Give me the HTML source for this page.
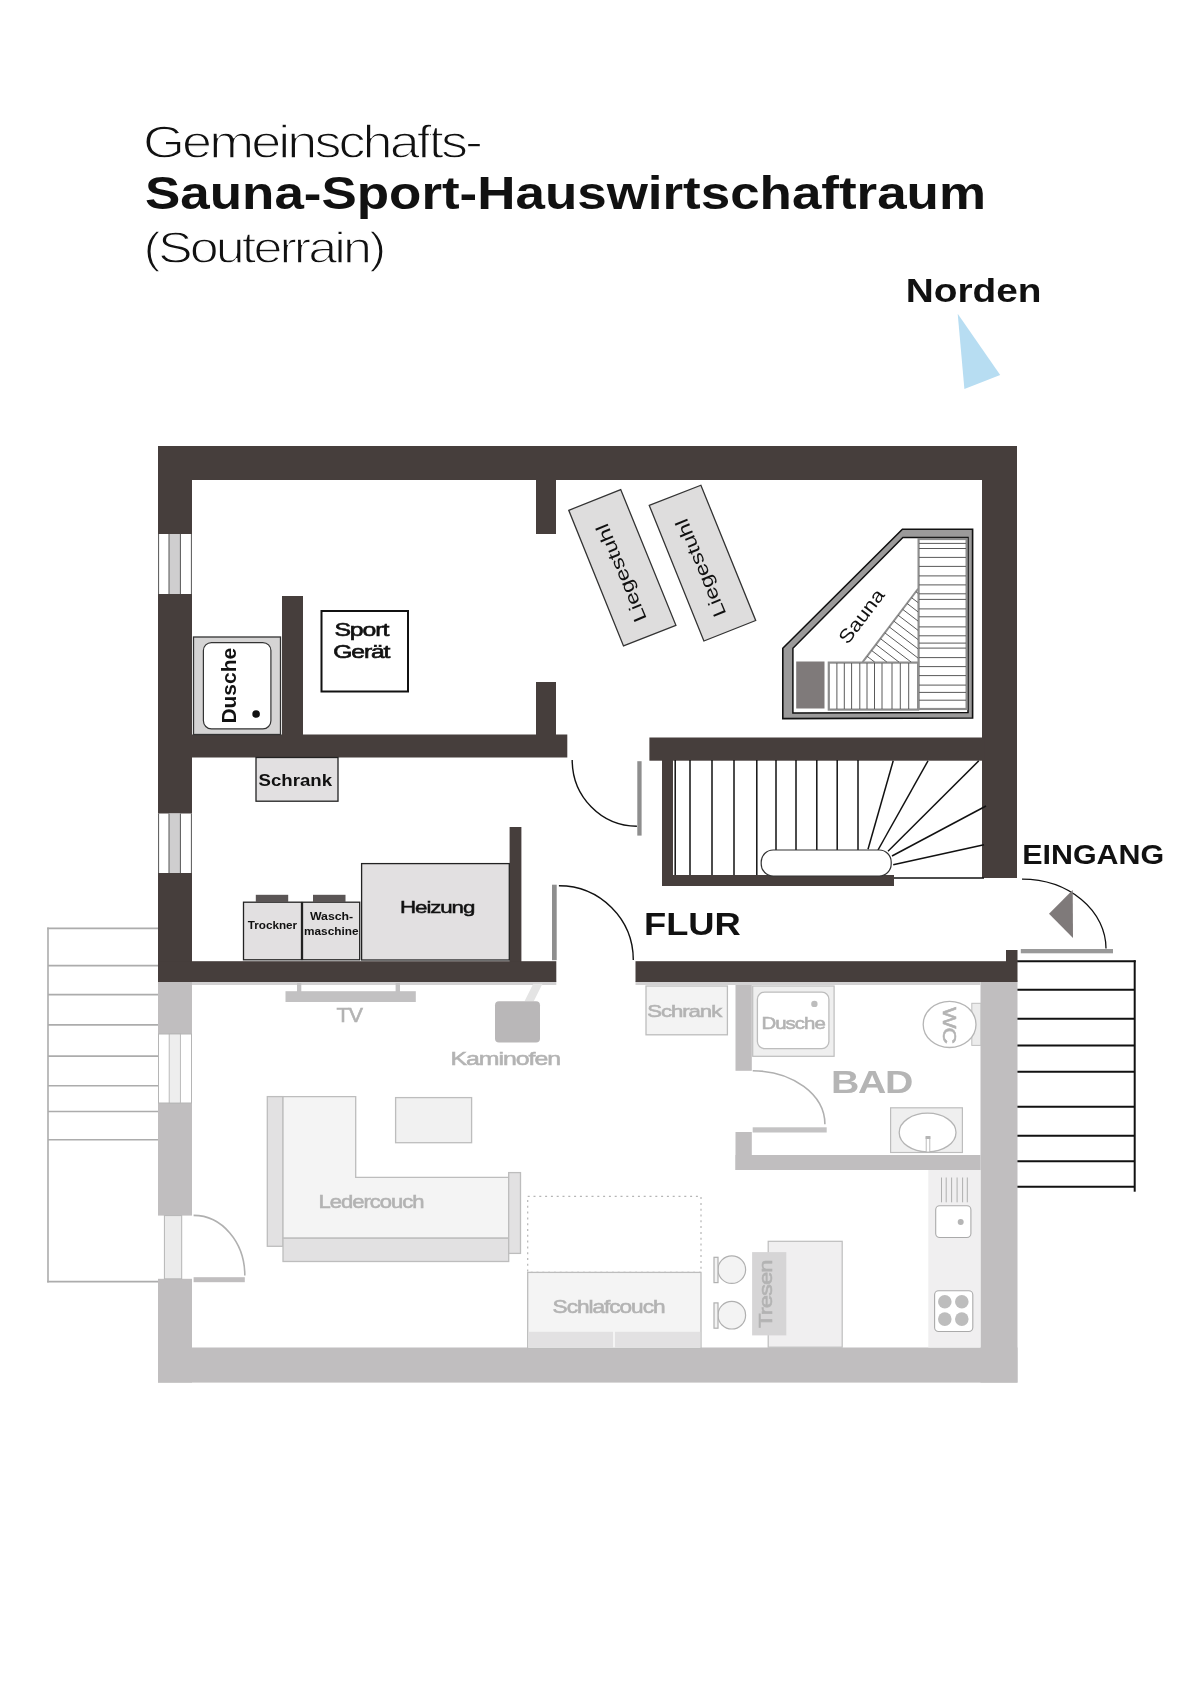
<!DOCTYPE html>
<html><head><meta charset="utf-8"><title>Souterrain</title>
<style>
html,body{margin:0;padding:0;background:#fff;}
body{width:1200px;height:1697px;overflow:hidden;}
svg{display:block;will-change:transform;}
text{font-family:"Liberation Sans",sans-serif;}
</style></head>
<body>
<svg width="1200" height="1697" viewBox="0 0 1200 1697">
<rect x="0" y="0" width="1200" height="1697" fill="#fff"/>

<!-- TITLE -->
<g fill="#111">
<text x="143" y="158" font-size="46" letter-spacing="-2.5" textLength="337" lengthAdjust="spacingAndGlyphs" stroke="#fff" stroke-width="1.3">Gemeinschafts-</text>
<text x="145" y="209" font-size="46" font-weight="bold" textLength="841" lengthAdjust="spacingAndGlyphs">Sauna-Sport-Hauswirtschaftraum</text>
<text x="143.5" y="263" font-size="45" letter-spacing="-2.5" textLength="240" lengthAdjust="spacingAndGlyphs" stroke="#fff" stroke-width="1.3">(Souterrain)</text>
<text x="905.7" y="302" font-size="33" font-weight="bold" textLength="135.8" lengthAdjust="spacingAndGlyphs">Norden</text>
</g>
<polygon points="957.7,313.8 1000.2,375 964.4,388.9" fill="#b7ddf2"/>

<!-- PLAN_LOWER -->
<!-- outside steps left -->
<g stroke="#acacac" stroke-width="1.6" fill="none">
<line x1="48" y1="927.6" x2="48" y2="1282.4"/>
<line x1="47.2" y1="928.4" x2="158" y2="928.4"/>
<line x1="48" y1="965.6" x2="158" y2="965.6"/>
<line x1="48" y1="994.6" x2="158" y2="994.6"/>
<line x1="48" y1="1024.9" x2="158" y2="1024.9"/>
<line x1="48" y1="1056.1" x2="158" y2="1056.1"/>
<line x1="48" y1="1085.8" x2="158" y2="1085.8"/>
<line x1="48" y1="1111.5" x2="158" y2="1111.5"/>
<line x1="48" y1="1139.8" x2="158" y2="1139.8"/>
<line x1="47.2" y1="1281.6" x2="158" y2="1281.6"/>
</g>
<!-- outside steps right -->
<g stroke="#111" stroke-width="2" fill="none">
<line x1="1017" y1="961.3" x2="1135.7" y2="961.3"/>
<line x1="1017" y1="989.7" x2="1134.7" y2="989.7"/>
<line x1="1017" y1="1018.8" x2="1134.7" y2="1018.8"/>
<line x1="1017" y1="1045.5" x2="1134.7" y2="1045.5"/>
<line x1="1017" y1="1071.7" x2="1134.7" y2="1071.7"/>
<line x1="1017" y1="1106.7" x2="1134.7" y2="1106.7"/>
<line x1="1017" y1="1135.8" x2="1134.7" y2="1135.8"/>
<line x1="1017" y1="1161.3" x2="1134.7" y2="1161.3"/>
<line x1="1017" y1="1186.7" x2="1134.7" y2="1186.7"/>
<line x1="1134.7" y1="960.3" x2="1134.7" y2="1191.7"/>
</g>
<!-- gray walls -->
<g fill="#c0bebf">
<rect x="158" y="980" width="34" height="54"/>
<rect x="158" y="1103" width="34" height="112.6"/>
<rect x="158" y="1278.8" width="34" height="103.8"/>
<rect x="158" y="1347.5" width="859.5" height="35.1"/>
<rect x="980.5" y="980" width="37" height="402.6"/>
<rect x="735.5" y="980" width="16.3" height="90.8"/>
<rect x="735.5" y="1132" width="16.3" height="38"/>
<rect x="735.5" y="1155" width="245" height="15"/>
</g>
<rect x="192" y="981" width="364.3" height="4" fill="#d2d1d2"/>
<rect x="635.5" y="981" width="345" height="4" fill="#d2d1d2"/>
<!-- window lower -->
<rect x="158.5" y="1034" width="33" height="69" fill="#fff" stroke="#b5b5b5" stroke-width="1"/>
<rect x="169.2" y="1034" width="11.2" height="69" fill="#eeeeee" stroke="#b5b5b5" stroke-width="0.9"/>
<!-- left door -->
<rect x="164.4" y="1215.6" width="17.3" height="63.2" fill="#ebebeb" stroke="#b5b5b5" stroke-width="1"/>
<rect x="193.6" y="1277.2" width="51.2" height="5" fill="#c0bebf"/>
<path d="M193.6,1215.4 A51.2,60 0 0 1 244.8,1275.4" fill="none" stroke="#b0b0b0" stroke-width="1.6"/>
<!-- TV -->
<g fill="#c2c1c2">
<rect x="285.5" y="991.2" width="130.3" height="10.8"/>
<rect x="297" y="983" width="4.3" height="9"/>
<rect x="395.6" y="983" width="4.4" height="9"/>
</g>
<!-- Kaminofen -->
<polygon points="533.25,983.75 542.5,983.75 533.75,1001.25 524.5,1001.25" fill="#e4e4e4"/>
<rect x="495" y="1001.25" width="45" height="41.25" rx="4" fill="#b9b7b8"/>
<!-- couch -->
<g stroke="#bdbdbd" stroke-width="1.3">
<rect x="267.3" y="1096.6" width="15.7" height="149.7" fill="#e2e1e2"/>
<path d="M283,1096.6 H355.7 V1177.4 H508.7 V1238.2 H283 Z" fill="#f4f4f4"/>
<rect x="283" y="1238.2" width="225.7" height="23.3" fill="#e2e1e2"/>
<rect x="508.7" y="1172.6" width="11.8" height="80.8" fill="#e2e1e2"/>
<rect x="395.6" y="1097.6" width="76" height="45.1" fill="#f1f1f1"/>
</g>
<!-- Schlafcouch -->
<rect x="527.7" y="1196.4" width="173.3" height="76" fill="none" stroke="#b5b5b5" stroke-width="1.2" stroke-dasharray="2,3.8"/>
<rect x="527.7" y="1272.4" width="173.3" height="76" fill="#f4f4f4" stroke="#bdbdbd" stroke-width="1.3"/>
<rect x="528.4" y="1331.8" width="84.6" height="16" fill="#e2e1e2"/>
<rect x="615" y="1331.8" width="85.3" height="16" fill="#e2e1e2"/>
<!-- Schrank lower -->
<rect x="646" y="986" width="81.4" height="48.8" fill="#f3f3f3" stroke="#bdbdbd" stroke-width="1.3"/>
<!-- Dusche lower -->
<rect x="752.7" y="986" width="81.4" height="70.3" fill="#efefef" stroke="#bdbdbd" stroke-width="1.2"/>
<rect x="757.4" y="992.2" width="71.5" height="56.4" rx="7" fill="#fff" stroke="#bdbdbd" stroke-width="1.3"/>
<circle cx="814.4" cy="1003.9" r="3.2" fill="#bdbdbd"/>
<!-- bath door -->
<path d="M752.7,1070.8 A72.2,53.4 0 0 1 824.9,1124.2" fill="none" stroke="#b0b0b0" stroke-width="1.6"/>
<rect x="752.7" y="1127.3" width="74" height="5.2" fill="#c4c3c4"/>
<!-- WC -->
<rect x="971.8" y="1003.3" width="9" height="42.1" fill="#ececec" stroke="#c0c0c0" stroke-width="1"/>
<ellipse cx="949.6" cy="1024.4" rx="26.4" ry="23.1" fill="#fff" stroke="#b5b5b5" stroke-width="1.3"/>
<!-- sink -->
<rect x="890.6" y="1107.8" width="71.8" height="44.7" fill="#efefef" stroke="#bdbdbd" stroke-width="1.2"/>
<ellipse cx="927.6" cy="1132.5" rx="28.4" ry="19.3" fill="#fff" stroke="#b5b5b5" stroke-width="1.3"/>
<rect x="926.2" y="1137" width="3.6" height="15" fill="#fff" stroke="#b5b5b5" stroke-width="0.9"/>
<rect x="925.6" y="1136" width="4.8" height="3" fill="#b5b5b5"/>
<!-- kitchen -->
<rect x="928.3" y="1170" width="52.2" height="177.5" fill="#f0eff0"/>
<g stroke="#a8a8a8" stroke-width="0.9">
<line x1="941.5" y1="1177.5" x2="941.5" y2="1202.3"/>
<line x1="946.2" y1="1177.5" x2="946.2" y2="1202.3"/>
<line x1="951.6" y1="1177.5" x2="951.6" y2="1202.3"/>
<line x1="957.1" y1="1177.5" x2="957.1" y2="1202.3"/>
<line x1="962.6" y1="1177.5" x2="962.6" y2="1202.3"/>
<line x1="967.3" y1="1177.5" x2="967.3" y2="1202.3"/>
</g>
<rect x="935.7" y="1205.8" width="35.2" height="31.7" rx="4" fill="#fff" stroke="#aaa" stroke-width="1.1"/>
<circle cx="960.7" cy="1222" r="3" fill="#b5b5b5"/>
<rect x="934.6" y="1290.8" width="38.2" height="40.7" rx="4" fill="#fff" stroke="#aaa" stroke-width="1.1"/>
<g fill="#bdbdbd">
<circle cx="944.8" cy="1301.8" r="6.8"/>
<circle cx="961.8" cy="1301.8" r="6.8"/>
<circle cx="944.8" cy="1319.1" r="6.8"/>
<circle cx="961.8" cy="1319.1" r="6.8"/>
</g>
<!-- Tresen -->
<rect x="768.2" y="1241.3" width="74" height="105.9" fill="#f0eff0" stroke="#bdbdbd" stroke-width="1.2"/>
<rect x="752.1" y="1252.1" width="34.2" height="83.3" fill="#d6d5d6"/>
<g fill="#f3f3f3" stroke="#b0b0b0" stroke-width="1.2">
<circle cx="731.8" cy="1269.6" r="13.8"/>
<circle cx="731.8" cy="1315.2" r="13.8"/>
<rect x="714" y="1257.3" width="4" height="25.3"/>
<rect x="714" y="1302.9" width="4" height="25.3"/>
</g>
<!-- lower labels -->
<g fill="#b3b3b3" stroke="#b3b3b3" stroke-width="0.55" letter-spacing="-0.8">
<text x="336.5" y="1021.7" font-size="19.5" textLength="25.5" lengthAdjust="spacingAndGlyphs">TV</text>
<text x="450.5" y="1065" font-size="19" textLength="109.5" lengthAdjust="spacingAndGlyphs">Kaminofen</text>
<text x="318.6" y="1208.3" font-size="17.5" textLength="105" lengthAdjust="spacingAndGlyphs">Ledercouch</text>
<text x="552.6" y="1312.8" font-size="17.5" textLength="111.9" lengthAdjust="spacingAndGlyphs">Schlafcouch</text>
<text x="647.2" y="1016.9" font-size="17" textLength="74" lengthAdjust="spacingAndGlyphs">Schrank</text>
<text x="761.4" y="1028.6" font-size="17" textLength="63.4" lengthAdjust="spacingAndGlyphs">Dusche</text>
<text transform="translate(942.9,1007) rotate(90)" font-size="18" textLength="36" lengthAdjust="spacingAndGlyphs">WC</text>
<text transform="translate(771.7,1327.9) rotate(-90)" font-size="19" textLength="67.4" lengthAdjust="spacingAndGlyphs">Tresen</text>
</g>
<text x="831" y="1093.3" font-size="30.5" font-weight="bold" fill="#b5b5b5" letter-spacing="-1" textLength="81.2" lengthAdjust="spacingAndGlyphs">BAD</text>

<!-- PLAN_UPPER -->
<g fill="#463e3c">
<rect x="158" y="446" width="859" height="34"/>
<rect x="158" y="446" width="34" height="536"/>
<rect x="982" y="446" width="35" height="432"/>
<rect x="536" y="478" width="20" height="56"/>
<rect x="536" y="682" width="20" height="54"/>
<rect x="192" y="734.5" width="375.3" height="23"/>
<rect x="282" y="596" width="21" height="140"/>
<rect x="649.4" y="737.5" width="335" height="23.2"/>
<rect x="662" y="759" width="11" height="127"/>
<rect x="662" y="875" width="232" height="11"/>
<rect x="509.6" y="827" width="11.8" height="136"/>
<rect x="158" y="961.2" width="398.3" height="20.8"/>
<rect x="635.5" y="961.2" width="382" height="20.8"/>
<rect x="1006" y="950" width="11.5" height="12"/>
</g>
<!-- windows upper -->
<g>
<rect x="158" y="534" width="34" height="60" fill="#fff"/>
<rect x="169" y="534" width="11.4" height="60" fill="#cfcecf"/>
<g stroke="#555" stroke-width="1"><line x1="158.6" y1="534" x2="158.6" y2="594"/><line x1="169" y1="534" x2="169" y2="594"/><line x1="180.4" y1="534" x2="180.4" y2="594"/><line x1="191.4" y1="534" x2="191.4" y2="594"/></g>
<rect x="158" y="813.5" width="34" height="59.5" fill="#fff"/>
<rect x="169" y="813.5" width="11.4" height="59.5" fill="#cfcecf"/>
<g stroke="#555" stroke-width="1"><line x1="158.6" y1="813.5" x2="158.6" y2="873.0"/><line x1="169" y1="813.5" x2="169" y2="873.0"/><line x1="180.4" y1="813.5" x2="180.4" y2="873.0"/><line x1="191.4" y1="813.5" x2="191.4" y2="873.0"/></g>
</g>
<!-- shower upper -->
<rect x="193.5" y="637" width="87" height="97.5" fill="#d5d4d4" stroke="#333" stroke-width="1.3"/>
<rect x="203.4" y="642.6" width="67.5" height="86.2" rx="8" fill="#fff" stroke="#333" stroke-width="1.2"/>
<circle cx="256.1" cy="714" r="3.8" fill="#111"/>
<text transform="translate(236.4,723.6) rotate(-90)" font-size="20" font-weight="bold" fill="#111" textLength="75.7" lengthAdjust="spacingAndGlyphs">Dusche</text>
<!-- sport geraet -->
<rect x="321.5" y="611" width="86.5" height="80.5" fill="#fff" stroke="#111" stroke-width="2"/>
<g fill="#111" font-size="18" stroke="#111" stroke-width="0.6" letter-spacing="-0.8">
<text x="334.4" y="636.4" textLength="53.8" lengthAdjust="spacingAndGlyphs">Sport</text>
<text x="333.2" y="658.1" textLength="56.2" lengthAdjust="spacingAndGlyphs">Gerät</text>
</g>
<!-- Liegestuehle -->
<g fill="#dedddd" stroke="#333" stroke-width="1.3">
<polygon points="568.75,510.3 620.7,489.6 675.9,625.3 623.5,645.9"/>
<polygon points="649.25,505.4 700.9,485.25 755.7,620.5 703.9,641"/>
</g>
<g fill="#111" font-size="18.5">
<text transform="translate(647.1,618.8) rotate(-112.5)" textLength="104.5" lengthAdjust="spacingAndGlyphs">Liegestuhl</text>
<text transform="translate(726.4,613.8) rotate(-112.4)" textLength="104.5" lengthAdjust="spacingAndGlyphs">Liegestuhl</text>
</g>
<!-- SAUNA -->
<polygon points="782.8,648.3 902.4,529.2 972.6,529.2 972.6,718 782.8,718.6" fill="#9b9a9a" stroke="#111" stroke-width="1.6"/>
<polygon points="792.9,648.3 902.9,537.4 968,537.4 968,712.5 792.9,713" fill="#fff" stroke="#111" stroke-width="1.5"/>
<rect x="796.2" y="661.5" width="28.3" height="47" fill="#7f7a7a"/>
<g stroke="#8d8d8d" fill="none">
<rect x="828.8" y="662.6" width="89.3" height="47" stroke-width="2.2"/>
<rect x="918.6" y="539" width="48" height="170" stroke-width="2.2"/>
<polyline points="862.6,662.1 918.1,588.75" stroke-width="2"/>
</g>
<g id="slats" stroke="#5a5a5a" stroke-width="1">
<line x1="836.9" y1="663" x2="836.9" y2="709"/>
<line x1="844.3" y1="663" x2="844.3" y2="709"/>
<line x1="851.6" y1="663" x2="851.6" y2="709"/>
<line x1="859.8" y1="663" x2="859.8" y2="709"/>
<line x1="867" y1="663" x2="867" y2="709"/>
<line x1="874.5" y1="663" x2="874.5" y2="709"/>
<line x1="882" y1="663" x2="882" y2="709"/>
<line x1="892" y1="663" x2="892" y2="709"/>
<line x1="900.3" y1="663" x2="900.3" y2="709"/>
<line x1="908.7" y1="663" x2="908.7" y2="709"/>
<line x1="919" y1="543.4" x2="966" y2="543.4"/>
<line x1="919" y1="548.5" x2="966" y2="548.5"/>
<line x1="919" y1="557.4" x2="966" y2="557.4"/>
<line x1="919" y1="566.4" x2="966" y2="566.4"/>
<line x1="919" y1="575.9" x2="966" y2="575.9"/>
<line x1="919" y1="584.9" x2="966" y2="584.9"/>
<line x1="919" y1="593.8" x2="966" y2="593.8"/>
<line x1="919" y1="599.4" x2="966" y2="599.4"/>
<line x1="919" y1="608.9" x2="966" y2="608.9"/>
<line x1="919" y1="616.8" x2="966" y2="616.8"/>
<line x1="919" y1="626.9" x2="966" y2="626.9"/>
<line x1="919" y1="635.8" x2="966" y2="635.8"/>
<line x1="919" y1="643.1" x2="966" y2="643.1"/>
<line x1="919" y1="648.1" x2="966" y2="648.1"/>
<line x1="919" y1="657.6" x2="966" y2="657.6"/>
<line x1="919" y1="666.6" x2="966" y2="666.6"/>
<line x1="919" y1="675.6" x2="966" y2="675.6"/>
<line x1="919" y1="685.1" x2="966" y2="685.1"/>
<line x1="919" y1="692.4" x2="966" y2="692.4"/>
<line x1="919" y1="700.2" x2="966" y2="700.2"/>
<line x1="867.0" y1="656.2" x2="874.7" y2="662.1"/>
<line x1="871.5" y1="650.4" x2="886.9" y2="662.1"/>
<line x1="875.9" y1="644.5" x2="899.0" y2="662.1"/>
<line x1="880.4" y1="638.6" x2="911.2" y2="662.1"/>
<line x1="884.8" y1="632.8" x2="918.1" y2="658.1"/>
<line x1="889.2" y1="626.9" x2="918.1" y2="648.9"/>
<line x1="893.7" y1="621.0" x2="918.1" y2="639.6"/>
<line x1="898.1" y1="615.2" x2="918.1" y2="630.4"/>
<line x1="902.6" y1="609.3" x2="918.1" y2="621.1"/>
<line x1="907.0" y1="603.4" x2="918.1" y2="611.9"/>
<line x1="911.4" y1="597.6" x2="918.1" y2="602.6"/>
<line x1="915.9" y1="591.7" x2="918.1" y2="593.4"/>
</g>
<text transform="translate(861.5,616.3) rotate(-53)" text-anchor="middle" dy="6.5" font-size="19" fill="#111" textLength="63" lengthAdjust="spacingAndGlyphs">Sauna</text>
<!-- STAIRS -->
<g id="stairs" stroke="#111" stroke-width="1.5" fill="none">
<line x1="675.2" y1="760" x2="675.2" y2="875"/>
<line x1="690" y1="760" x2="690" y2="875"/>
<line x1="712" y1="760" x2="712" y2="875"/>
<line x1="734" y1="760" x2="734" y2="875"/>
<line x1="756.8" y1="760" x2="756.8" y2="875"/>
<line x1="776" y1="760" x2="776" y2="851"/>
<line x1="796" y1="760" x2="796" y2="851"/>
<line x1="816.8" y1="760" x2="816.8" y2="851"/>
<line x1="837.2" y1="760" x2="837.2" y2="851"/>
<line x1="858" y1="760" x2="858" y2="851"/>
<line x1="868" y1="849.2" x2="893.2" y2="760.8"/>
<line x1="878" y1="850" x2="928" y2="760.8"/>
<line x1="888" y1="851.2" x2="978.8" y2="760.8"/>
<line x1="892" y1="856" x2="986" y2="806"/>
<line x1="893.2" y1="864.8" x2="984" y2="844.8"/>
</g>
<rect x="761.2" y="850" width="130" height="26" rx="12" fill="#fff" stroke="#333" stroke-width="1.2"/>
<line x1="894" y1="878" x2="984" y2="878" stroke="#111" stroke-width="1.5"/>
<!-- doors upper -->
<path d="M572.2,760 A64.7,66.2 0 0 0 636.9,826.2" fill="none" stroke="#111" stroke-width="1.4"/>
<rect x="637.3" y="761.2" width="4.3" height="74.4" fill="#8e8e8e"/>
<path d="M558.9,885.7 A74.4,74.3 0 0 1 633.3,960" fill="none" stroke="#111" stroke-width="1.4"/>
<rect x="552" y="884.7" width="4.7" height="75.5" fill="#8e8e8e"/>
<path d="M1022,879.2 A84,69.3 0 0 1 1106,948.5" fill="none" stroke="#111" stroke-width="1.3"/>
<rect x="1020.8" y="949" width="92.2" height="4.3" fill="#999"/>
<polygon points="1072.7,890 1049,913.7 1073,938" fill="#7f7a7a"/>
<!-- Schrank / Heizung / Trockner -->
<g stroke="#222" stroke-width="1.3" fill="#e2e0e1">
<rect x="256" y="757.5" width="82" height="43.7"/>
<rect x="361.6" y="863.6" width="147.7" height="96.4"/>
<rect x="243.5" y="902.2" width="58" height="57.6"/>
<rect x="302.5" y="902.2" width="57.2" height="57.6"/>
</g>
<g fill="#5a5555">
<rect x="255.8" y="894.8" width="32.4" height="7.4"/>
<rect x="313" y="894.8" width="32.5" height="7.4"/>
</g>
<g fill="#111" font-weight="bold">
<text x="258.6" y="786.3" font-size="16.5" textLength="73.5" lengthAdjust="spacingAndGlyphs">Schrank</text>
<text x="400.1" y="912.6" font-size="16.3" font-weight="normal" stroke="#111" stroke-width="0.45" letter-spacing="-0.8" textLength="74.1" lengthAdjust="spacingAndGlyphs">Heizung</text>
<text x="247.7" y="928.8" font-size="11.5" textLength="49.4" lengthAdjust="spacingAndGlyphs">Trockner</text>
<text x="309.9" y="919.8" font-size="11.5" textLength="43.3" lengthAdjust="spacingAndGlyphs">Wasch-</text>
<text x="304" y="935.4" font-size="11.5" textLength="54.5" lengthAdjust="spacingAndGlyphs">maschine</text>
<text x="644" y="934.5" font-size="31.5" textLength="96.8" lengthAdjust="spacingAndGlyphs">FLUR</text>
<text x="1022.2" y="863.7" font-size="27" textLength="142" lengthAdjust="spacingAndGlyphs">EINGANG</text>
</g>

</svg>
</body></html>
